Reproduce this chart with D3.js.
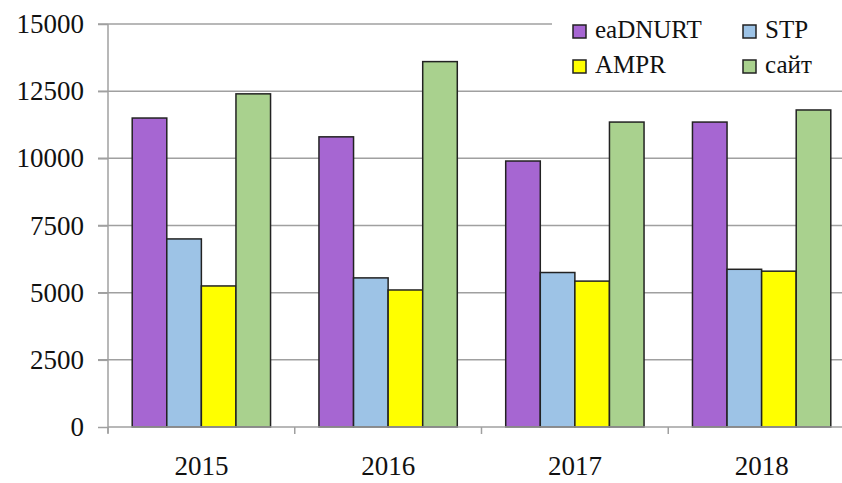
<!DOCTYPE html>
<html>
<head>
<meta charset="utf-8">
<script src="https://cdn.jsdelivr.net/npm/d3@7"></script>
<style>
  body { margin: 0; background: #fff; }
  svg { display: block; }
</style>
</head>
<body>
<svg width="842" height="483"></svg>
<script>
// Dati del grafico
const years = ["2015", "2016", "2017", "2018"];
const seriesNames = ["eaDNURT", "STP", "AMPR", "сайт"];
const eaDNURT = [11500, 10800, 9900, 11350];
const STP = [7000, 5550, 5750, 5870];
const AMPR = [5250, 5100, 5430, 5800];
const sait = [12400, 13600, 11350, 11800];
const yTicks = [0, 2500, 5000, 7500, 10000, 12500, 15000];

const colors = ["#A666D2", "#9DC3E6", "#FFFF00", "#A9D18E"];
const series = [eaDNURT, STP, AMPR, sait];

const svg = d3.select('svg');
const margin = {left: 108, right: 855, top: 24, bottom: 427};

const x = d3.scaleBand()
  .domain(years)
  .range([margin.left, margin.right])
  .paddingInner(0)
  .paddingOuter(0);

const xInner = d3.scaleBand()
  .domain(d3.range(seriesNames.length))
  .range([0, x.bandwidth()])
  .paddingOuter(0.7)
  .paddingInner(0);

const y = d3.scaleLinear()
  .domain([0, 15000])
  .range([margin.bottom, margin.top]);

// griglia orizzontale
svg.append('g')
  .selectAll('line')
  .data(yTicks.filter(d => d > 0))
  .enter()
  .append('line')
  .attr('x1', margin.left - 10)
  .attr('x2', 842)
  .attr('y1', d => y(d))
  .attr('y2', d => y(d))
  .style('stroke', '#a0a0a0')
  .style('stroke-width', 1.5);

// asse Y
const yAxis = d3.axisLeft(y)
  .tickValues(yTicks)
  .tickSize(10)
  .tickPadding(16)
  .tickFormat(d3.format('d'));

const gy = svg.append('g')
  .attr('transform', `translate(${margin.left},0)`)
  .call(yAxis);
gy.select('.domain').attr('d', `M0,${margin.top}V${margin.bottom + 6}`);
gy.selectAll('.domain, line').style('stroke', '#a0a0a0').style('stroke-width', 1.5);
gy.selectAll('text')
  .attr('font-family', 'Liberation Serif')
  .attr('font-size', '27px')
  .attr('fill', '#111')
  .attr('dx', 2);

// barre
years.forEach(function(yr, i) {
  series.forEach(function(s, j) {
    svg.append('rect')
      .attr('x', x(yr) + xInner(j))
      .attr('y', y(s[i]))
      .attr('width', xInner.bandwidth())
      .attr('height', y(0) - y(s[i]))
      .style('fill', colors[j])
      .style('stroke', '#222')
      .style('stroke-width', 1.5);
  });
});

// asse X
const xAxis = d3.axisBottom(x)
  .tickSize(0)
  .tickPadding(29);
const gx = svg.append('g')
  .attr('transform', `translate(0,${margin.bottom})`)
  .call(xAxis);
gx.select('.domain').attr('d', `M${margin.left},0H842`).style('stroke', '#a0a0a0').style('stroke-width', 1.5);
gx.selectAll('text')
  .attr('font-family', 'Liberation Serif')
  .attr('font-size', '27px')
  .attr('fill', '#111');
svg.append('g')
  .selectAll('line')
  .data(years.concat(['end']))
  .enter()
  .append('line')
  .attr('x1', (d, i) => margin.left + i * x.bandwidth())
  .attr('x2', (d, i) => margin.left + i * x.bandwidth())
  .attr('y1', margin.bottom)
  .attr('y2', margin.bottom + 7)
  .style('stroke', '#a0a0a0')
  .style('stroke-width', 1.5);

// legenda
const legend = svg.append('g');
legend.append('rect')
  .attr('x', 552)
  .attr('y', 8)
  .attr('width', 290)
  .attr('height', 76)
  .style('fill', '#fff');

const legendPos = [{x: 573, y: 25}, {x: 743, y: 25}, {x: 573, y: 60}, {x: 743, y: 60}];
seriesNames.forEach(function(name, i) {
  legend.append('rect')
    .attr('x', legendPos[i].x)
    .attr('y', legendPos[i].y)
    .attr('width', 13)
    .attr('height', 13)
    .style('fill', colors[i])
    .style('stroke', '#222')
    .style('stroke-width', 1.5);
  legend.append('text')
    .attr('x', legendPos[i].x + 22)
    .attr('y', legendPos[i].y + 13)
    .attr('font-family', 'Liberation Serif')
    .attr('font-size', '25px')
    .attr('fill', '#111')
    .text(name);
});
</script>
</body>
</html>
